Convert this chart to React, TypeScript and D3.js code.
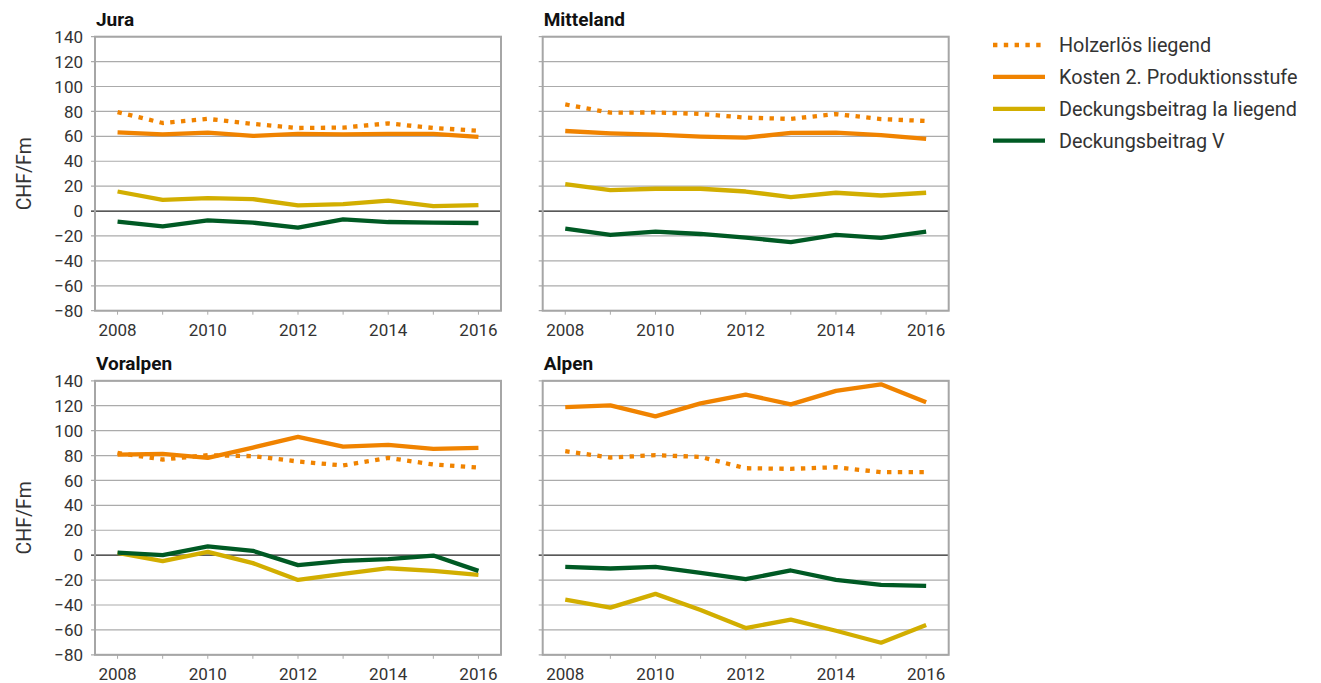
import { useEffect, useRef } from 'react';
import * as d3 from 'd3';

const WIDTH = 1321;
const HEIGHT = 683;
const PLOT_W = 406;
const PLOT_H = 274;

const years = [2008, 2009, 2010, 2011, 2012, 2013, 2014, 2015, 2016];
const yTicks = [-80, -60, -40, -20, 0, 20, 40, 60, 80, 100, 120, 140];
const regions = ['Jura', 'Mitteland', 'Voralpen', 'Alpen'];

// one row per region, in the order of `regions`
const holzerloesLiegend = [
  [79.5, 70.7, 74, 70, 66.7, 67, 70.4, 66.7, 64.5],
  [85.6, 79, 79.2, 78, 75, 74, 77.9, 73.9, 72.3],
  [82.1, 76.8, 80.3, 79.5, 75.2, 72, 78.1, 72.8, 70.3],
  [83.5, 78.4, 80.3, 78.9, 69.8, 69.3, 70.6, 66.6, 66.6],
];
const kosten2Stufe = [
  [63.2, 61.6, 63, 60.3, 62, 61.6, 62, 62, 59.6],
  [64.3, 62.4, 61.3, 59.7, 58.9, 62.7, 62.9, 61, 57.9],
  [80.8, 81.3, 78.1, 86.4, 95, 87.2, 88.6, 85.4, 86.2],
  [118.9, 120.3, 111.4, 121.9, 128.9, 121.1, 131.9, 137.2, 122.7],
];
const dbIaLiegend = [
  [15.7, 9, 10.4, 9.6, 4.5, 5.6, 8.3, 4, 4.8],
  [21.6, 16.8, 17.9, 17.9, 15.7, 11.2, 14.7, 12.5, 14.7],
  [1.9, -4.8, 2.7, -6.4, -19.9, -15, -10.5, -12.6, -15.8],
  [-35.7, -42.1, -31.1, -44, -58.5, -51.8, -60.7, -70.3, -56.1],
];
const dbV = [
  [-8.5, -12.3, -7.5, -9.3, -13.3, -6.7, -8.8, -9.3, -9.6],
  [-14.1, -19.2, -16.5, -18.4, -21.3, -25, -19.2, -21.6, -16.5],
  [2.1, 0, 7, 3.5, -8, -4.6, -3.2, -0.3, -12.6],
  [-9.4, -10.7, -9.4, -14.2, -19.3, -12.3, -19.9, -23.9, -24.7],
];

const seriesNames = ['Holzerlös liegend', 'Kosten 2. Produktionsstufe', 'Deckungsbeitrag Ia liegend', 'Deckungsbeitrag V'];
const seriesData = [holzerloesLiegend, kosten2Stufe, dbIaLiegend, dbV];
const seriesColors = ['#F08300', '#F08300', '#D2AE00', '#005A24'];
const seriesDash = ['4.4,6.4', null, null, null];

const PANELS = [
  { left: 95, top: 36.7 },
  { left: 542.7, top: 36.7 },
  { left: 95, top: 380.8 },
  { left: 542.7, top: 380.8 },
];

const FONT = 'Roboto, "Noto Sans", sans-serif';

export default function App() {
  const svgRef = useRef<SVGSVGElement | null>(null);

  useEffect(() => {
    const svg = d3.select(svgRef.current);
    svg.selectAll('*').remove();

    const x = d3.scaleLinear().domain([2007.5, 2016.5]).range([0, PLOT_W]);
    const y = d3.scaleLinear().domain([-80, 140]).range([PLOT_H, 0]);

    regions.forEach((name, ri) => {
      const pos = PANELS[ri];
      const g = svg.append('g').attr('transform', `translate(${pos.left},${pos.top})`);

      // grid
      g.append('g')
        .selectAll('line')
        .data(yTicks.filter((t) => t !== 0))
        .join('line')
        .attr('x1', -4)
        .attr('x2', PLOT_W)
        .attr('y1', (d) => y(d))
        .attr('y2', (d) => y(d))
        .attr('stroke', '#ABABAB')
        .attr('stroke-width', 1.2);

      // year ticks
      g.append('g')
        .selectAll('line')
        .data(years)
        .join('line')
        .attr('x1', (d) => x(d))
        .attr('x2', (d) => x(d))
        .attr('y1', PLOT_H)
        .attr('y2', PLOT_H + 4)
        .attr('stroke', '#ABABAB')
        .attr('stroke-width', 1);

      // zero line
      g.append('line')
        .attr('x1', -4)
        .attr('x2', PLOT_W)
        .attr('y1', y(0))
        .attr('y2', y(0))
        .attr('stroke', '#222')
        .attr('stroke-width', 1.2);

      // frame
      g.append('rect')
        .attr('x', 0)
        .attr('y', 0)
        .attr('width', PLOT_W)
        .attr('height', PLOT_H)
        .attr('fill', 'none')
        .attr('stroke', '#A6A6A6')
        .attr('stroke-width', 2);

      // series
      const line = d3.line<number>()
        .x((_, i) => x(years[i]))
        .y((d) => y(d));

      seriesData.forEach((s, si) => {
        const path = g.append('path')
          .datum(s[ri])
          .attr('d', line)
          .attr('fill', 'none')
          .attr('stroke', seriesColors[si])
          .attr('stroke-width', 4.3)
          .attr('stroke-linejoin', 'round');
        if (seriesDash[si]) path.attr('stroke-dasharray', seriesDash[si]);
      });

      // title
      g.append('text')
        .attr('x', 1)
        .attr('y', -11)
        .attr('font-family', FONT)
        .attr('font-weight', 700)
        .attr('font-size', 19)
        .attr('fill', '#111')
        .text(name);

      // x labels
      g.append('g')
        .selectAll('text')
        .data(years.filter((yr) => yr % 2 === 0))
        .join('text')
        .attr('x', (d) => x(d))
        .attr('y', PLOT_H + 25.5)
        .attr('text-anchor', 'middle')
        .attr('font-family', FONT)
        .attr('font-size', 17)
        .attr('fill', '#333')
        .text((d) => d);

      if (ri % 2 === 0) {
        g.append('g')
          .selectAll('text')
          .data(yTicks)
          .join('text')
          .attr('x', -12)
          .attr('y', (d) => y(d))
          .attr('dy', '0.36em')
          .attr('text-anchor', 'end')
          .attr('font-family', FONT)
          .attr('font-size', 17)
          .attr('fill', '#333')
          .text((d) => (d < 0 ? `\u2212${Math.abs(d)}` : d));

        g.append('text')
          .attr('transform', `translate(${-71},${PLOT_H / 2}) rotate(-90)`)
          .attr('text-anchor', 'middle')
          .attr('dy', '0.36em')
          .attr('font-family', FONT)
          .attr('font-size', 19.5)
          .attr('fill', '#333')
          .text('CHF/Fm');
      }
    });

    // legend
    const lg = svg.append('g').attr('transform', 'translate(993,45)');
    seriesNames.forEach((nm, i) => {
      const row = lg.append('g').attr('transform', `translate(0,${i * 31.9})`);
      const l = row.append('line')
        .attr('x1', 0)
        .attr('x2', 52)
        .attr('y1', 0)
        .attr('y2', 0)
        .attr('stroke', seriesColors[i])
        .attr('stroke-width', 4.3);
      if (seriesDash[i]) l.attr('stroke-dasharray', seriesDash[i]);
      row.append('text')
        .attr('x', 66)
        .attr('y', 0)
        .attr('dy', '0.36em')
        .attr('font-family', FONT)
        .attr('font-size', 19.8)
        .attr('fill', '#333')
        .text(nm);
    });
  }, []);

  return (
    <svg
      ref={svgRef}
      width={WIDTH}
      height={HEIGHT}
      style={{ position: 'absolute', left: 0, top: 0, background: '#fff' }}
    />
  );
}
